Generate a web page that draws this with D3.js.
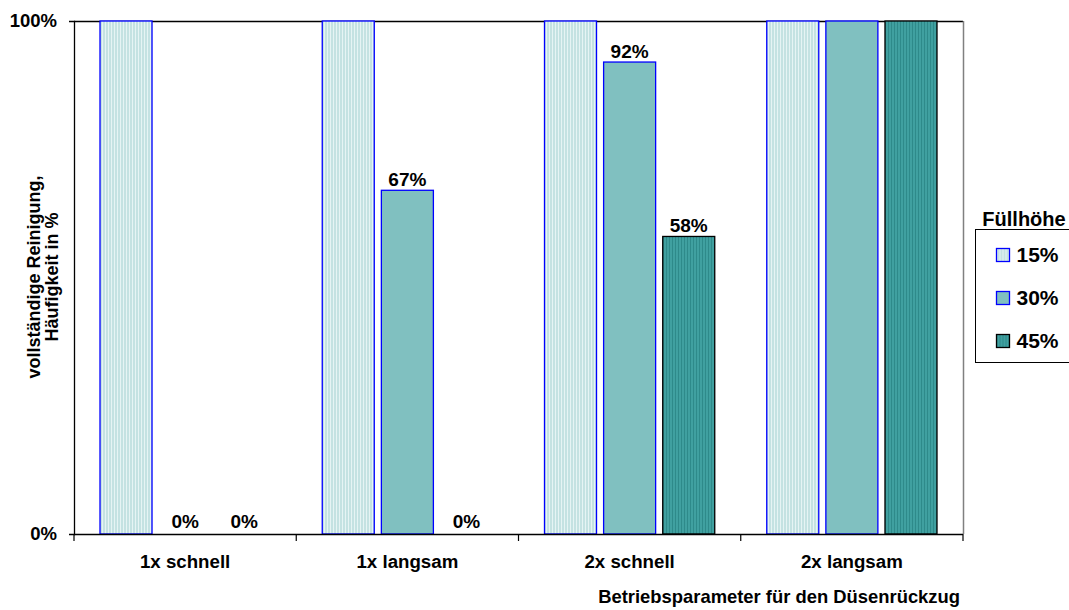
<!DOCTYPE html>
<html><head><meta charset="utf-8">
<script src="https://cdn.jsdelivr.net/npm/d3@7"></script>
<style>body{margin:0;background:#fff}svg{display:block;font-family:"Liberation Sans",Arial,sans-serif;font-weight:bold}</style>
</head><body><svg id="c" width="1069" height="610"></svg>
<script>
const categories = ["1x schnell","1x langsam","2x schnell","2x langsam"];
const seriesNames = ["15%","30%","45%"];
const s15 = [100,100,100,100];
const s30 = [0,67,92,100];
const s45 = [0,0,58,100];
const yTicks = [0,100];
const seriesVals = [s15,s30,s45];

const svg = d3.select("#c");
const L=74,R=963,T=21,B=534;
const defs = svg.append("defs");
function stripes(id, base, stripe, w){
  const p = defs.append("pattern").attr("id",id).attr("patternUnits","userSpaceOnUse").attr("width",w).attr("height",4);
  p.append("rect").attr("width",w).attr("height",4).attr("fill",base);
  p.append("rect").attr("width",1).attr("height",4).attr("fill",stripe);
}
stripes("p15","#c4e2e2","#e6f4f4",3);
stripes("p45","#40a0a0","#2e8a8a",3);
const fills = ["url(#p15)","#80c0c0","url(#p45)"];
const strokes = ["#0000ff","#0000ff","#000000"];

const x = d3.scaleBand().domain(categories).range([L,R]);
const xs = d3.scaleBand().domain(seriesNames).range([26,x.bandwidth()-26]).paddingInner(0.12);
const y = d3.scaleLinear().domain([0,100]).range([B,T]);

// frame
svg.append("line").attr("x1",L).attr("x2",R).attr("y1",T+0.5).attr("y2",T+0.5).attr("stroke","#000").attr("stroke-width",1.5);
svg.append("line").attr("x1",R+0.5).attr("x2",R+0.5).attr("y1",T).attr("y2",B).attr("stroke","#808080").attr("stroke-width",1.5);

seriesVals.forEach((vals,si)=>{
  const g = svg.append("g");
  categories.forEach((c,ci)=>{
    const v = vals[ci];
    const bx = x(c)+xs(seriesNames[si]);
    if(v>0){
      g.append("rect").attr("x",bx).attr("y",y(v)).attr("width",xs.bandwidth()).attr("height",y(0)-y(v))
        .attr("fill",fills[si]).attr("stroke",strokes[si]).attr("stroke-width",1.3);
    }
    if(v<100){
      g.append("text").attr("x",bx+xs.bandwidth()/2).attr("y",y(v)-(v>0?4:6)).attr("text-anchor","middle")
        .attr("font-size",19).attr("fill","#000").text(v+"%");
    }
  });
});

// axes
const yAxis = d3.axisLeft(y).tickValues(yTicks).tickFormat(d=>d+"%").tickSize(5).tickPadding(12);
const ya = svg.append("g").attr("transform",`translate(${L},0)`).call(yAxis);
ya.attr("font-size",null).attr("font-family",null);
ya.select(".domain").attr("stroke","#000").attr("stroke-width",1.3);
ya.selectAll("text").attr("font-size",18.5).attr("font-weight","bold").attr("fill","#000");

const xa = svg.append("g").attr("transform",`translate(0,${B})`);
xa.append("line").attr("x1",L).attr("x2",R).attr("y1",0.5).attr("y2",0.5).attr("stroke","#000").attr("stroke-width",1.3);
const bounds = categories.map(c=>x(c)).concat([R]);
xa.selectAll("line.t").data(bounds).join("line").attr("class","t").attr("x1",d=>d).attr("x2",d=>d).attr("y1",0).attr("y2",7).attr("stroke","#000").attr("stroke-width",1.2);
xa.selectAll("text").data(categories).join("text").attr("x",d=>x(d)+x.bandwidth()/2).attr("y",34).attr("text-anchor","middle").attr("font-size",18.7).attr("fill","#000").text(d=>d);

svg.append("text").attr("x",960).attr("y",603).attr("text-anchor","end").attr("font-size",18.4).text("Betriebsparameter für den Düsenrückzug");
svg.append("text").attr("transform","translate(40,277) rotate(-90)").attr("text-anchor","middle").attr("font-size",18).text("vollständige Reinigung,");
svg.append("text").attr("transform","translate(58,277) rotate(-90)").attr("text-anchor","middle").attr("font-size",18).text("Häufigkeit in %");

// legend
svg.append("text").attr("x",1024).attr("y",226).attr("text-anchor","middle").attr("font-size",20).text("Füllhöhe");
svg.append("rect").attr("x",975.5).attr("y",229.5).attr("width",100).attr("height",133).attr("fill","#fff").attr("stroke","#000").attr("stroke-width",1);
const lg = svg.append("g").selectAll("g").data(seriesNames).join("g").attr("transform",(d,i)=>`translate(996.5,${248.5+i*43})`);
lg.append("rect").attr("width",13).attr("height",13).attr("fill",(d,i)=>fills[i]).attr("stroke",(d,i)=>strokes[i]).attr("stroke-width",1.3);
lg.append("text").attr("x",20).attr("y",13).attr("font-size",21).text(d=>d);
</script></body></html>
